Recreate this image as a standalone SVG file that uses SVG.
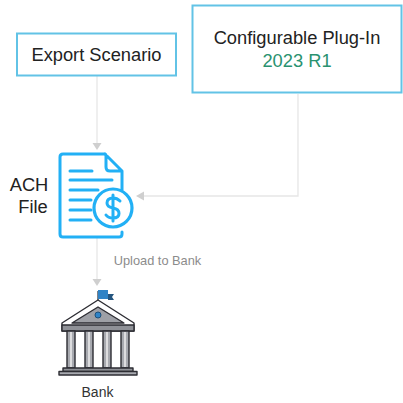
<svg xmlns="http://www.w3.org/2000/svg" width="403" height="403" viewBox="0 0 403 403">
<style>
text{font-family:"Liberation Sans",Arial,sans-serif;text-anchor:middle}
.box{fill:#fff;stroke:#62c3e6;stroke-width:2}
.c{fill:none;stroke:#e6e6e6;stroke-width:1.3}
.a{fill:#cfcfcf}
.d{fill:none;stroke:#22b0f5;stroke-width:3;stroke-linecap:round;stroke-linejoin:round}
.k{stroke:#2d2d33;stroke-width:1.4;stroke-linejoin:round}
</style>
<rect width="403" height="403" fill="#fff"/>
<g id="connectors">
<path class="c" d="M97 76V143"/><polygon class="a" points="92.500,143 101.500,143 97,150"/>
<path class="c" d="M298 94V196H143"/><polygon class="a" points="144,191.500 144,200.500 136,196"/>
<path class="c" d="M97 238V284"/><polygon class="a" points="92.500,279 101.500,279 97,286"/>
</g>
<g id="export-scenario">
<rect class="box" x="17" y="33.500" width="159" height="42"/>
<text x="96.500" y="61" font-size="18.300" fill="#222">Export Scenario</text>
</g>
<g id="plugin">
<rect class="box" x="192.500" y="5.500" width="209" height="87"/>
<text x="297" y="44" font-size="18.300" fill="#222">Configurable Plug-In</text>
<text x="297" y="67" font-size="18.300" fill="#2a9270">2023 R1</text>
</g>
<g id="ach-file">
<text x="29" y="191" font-size="18.300" fill="#222">ACH</text>
<text x="33" y="213" font-size="18.300" fill="#222">File</text>
<path class="d" d="M105 154H63Q60 154 60 157V234Q60 237 63 237H119Q122 237 122 234V232"/>
<path class="d" d="M105 154L122 171V190M106 155V167Q106 171 110 171H122"/>
<path class="d" d="M70 171H92M70 180H112M70 190H98M70 200H91M70 210H91M70 220H91"/>
<circle cx="113" cy="208" r="19" fill="#fff" stroke="#22b0f5" stroke-width="3.200"/>
<path class="d" d="M120 201Q117 198 113 198Q107 198 107 203Q107 207 113 208Q119 209 119 213.500Q119 218 113 218Q108 218 106 215M113 195V221"/>
</g>
<g id="upload-label">
<text x="157.500" y="265" font-size="12.800" fill="#8c8c8c">Upload to Bank</text>
</g>
<g id="bank">
<path d="M98 301V291" stroke="#2d2d33" stroke-width="1.200"/>
<polygon points="98,290 108,290 108,299 98,299" fill="#2f83c6"/>
<polygon points="108,294 114,294 112,297 114,300 108,300" fill="#24557f"/>
<polygon class="k" points="98,300 134,323 134,331 62,331 62,323" fill="#fff"/>
<polygon class="k" points="98,307 124,323 72,323" fill="#9ea0a6"/>
<circle cx="98" cy="315" r="3" fill="#2f83c6" stroke="#1d4e78"/>
<rect class="k" x="62" y="325" width="72" height="6" fill="#8f9197"/>
<g class="k" fill="#a8aab0">
<rect x="67" y="331" width="8" height="37"/><rect x="85" y="331" width="8" height="37"/><rect x="103" y="331" width="8" height="37"/><rect x="121" y="331" width="8" height="37"/>
</g>
<path d="M71 332V367M89 332V367M107 332V367M125 332V367" stroke="#eee" stroke-width="1.500"/>
<rect class="k" x="63" y="368" width="70" height="3.500" fill="#8f9197"/>
<rect class="k" x="59" y="371.500" width="78" height="3.500" fill="#a8aab0"/>
<text x="97.500" y="397" font-size="14" fill="#333">Bank</text>
</g>
</svg>
